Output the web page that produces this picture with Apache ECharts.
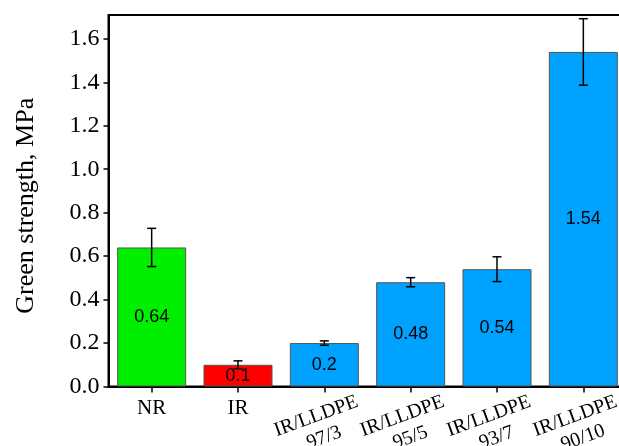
<!DOCTYPE html>
<html>
<head>
<meta charset="utf-8">
<script src="https://cdn.jsdelivr.net/npm/echarts@6/dist/echarts.min.js"></script>
<style>
html,body{margin:0;padding:0;background:#fff;}
#chart{width:619px;height:446px;}
</style>
</head>
<body>
<div id="chart"></div>
<script>
const categories = ['NR', 'IR', 'IR/LLDPE\n97/3', 'IR/LLDPE\n95/5', 'IR/LLDPE\n93/7', 'IR/LLDPE\n90/10'];
const values = [0.64, 0.1, 0.2, 0.48, 0.54, 1.54];
const errors = [0.088, 0.018, 0.01, 0.021, 0.057, 0.153];
const yTicks = [0, 0.2, 0.4, 0.6, 0.8, 1.0, 1.2, 1.4, 1.6];
const yTitle = 'Green strength, MPa';

const barColors = ['#00EE00', '#FF0000', '#00A2FF', '#00A2FF', '#00A2FF', '#00A2FF'];
const serif = '"Liberation Serif", "Times New Roman", serif';
const sans = '"Liberation Sans", Arial, sans-serif';

const chart = echarts.init(document.getElementById('chart'), null, {renderer: 'canvas'});

const option = {
  animation: false,
  backgroundColor: '#ffffff',
  grid: {
    left: 108.5, top: 15, bottom: 59.5, width: 518,
    containLabel: false,
    outerBoundsMode: 'none',
    show: true, borderColor: '#000', borderWidth: 2, backgroundColor: 'transparent'
  },
  xAxis: [
    {
      type: 'category',
      data: categories,
      axisLine: {lineStyle: {color: '#000', width: 2}},
      axisTick: {show: true, alignWithLabel: true, length: 6, lineStyle: {color: '#000', width: 1.5}},
      axisLabel: {
        interval: 0,
        margin: 11,
        color: '#000',
        fontFamily: serif,
        fontSize: 21,
        formatter: function (v) { return v.indexOf('\n') >= 0 ? '' : v; }
      },
      splitLine: {show: false}
    },
    {
      type: 'category',
      data: categories,
      position: 'bottom',
      gridIndex: 0,
      axisLine: {show: false},
      axisTick: {show: false},
      axisLabel: {
        interval: 0,
        rotate: 20,
        margin: 39,
        align: 'center',
        verticalAlign: 'middle',
        color: '#000',
        fontFamily: serif,
        fontSize: 20,
        lineHeight: 23,
        formatter: function (v) {
          if (v.indexOf('\n') < 0) { return ''; }
          return v.split('\n').map(function (s) { return '{a|' + s + '}'; }).join('\n');
        },
        rich: {
          a: {fontFamily: serif, fontSize: 20, lineHeight: 23, color: '#000', padding: [0, 9, 0, 0]}
        }
      },
      splitLine: {show: false}
    }
  ],
  yAxis: {
    type: 'value',
    min: 0,
    max: 1.71,
    interval: 0.2,
    name: yTitle,
    nameLocation: 'middle',
    nameGap: 69,
    nameTextStyle: {fontFamily: serif, fontSize: 26, color: '#000', padding: [0, 10, 0, 0]},
    axisLine: {show: true, lineStyle: {color: '#000', width: 2}},
    axisTick: {show: true, length: 5, customValues: yTicks, lineStyle: {color: '#000', width: 1.5}},
    axisLabel: {
      margin: 9,
      color: '#000',
      fontFamily: serif,
      fontSize: 24,
      customValues: yTicks,
      formatter: function (v) { return v.toFixed(1); }
    },
    splitLine: {show: false}
  },
  series: [
    {
      type: 'bar',
      xAxisIndex: 0,
      barWidth: 69,
      data: values.map(function (v, i) {
        return {value: v, itemStyle: {color: barColors[i]}};
      }),
      itemStyle: {borderColor: '#555', borderWidth: 1},
      label: {
        show: true,
        position: 'inside',
        color: '#000',
        fontFamily: sans,
        fontSize: 18,
        formatter: function (p) { return String(p.value); }
      },
      z: 2
    },
    {
      type: 'custom',
      xAxisIndex: 0,
      z: 5,
      data: values.map(function (v, i) { return [i, v, errors[i]]; }),
      encode: {x: 0, y: 1},
      renderItem: function (params, api) {
        const i = api.value(0);
        const v = api.value(1);
        const e = api.value(2);
        const top = api.coord([i, v + e]);
        const bot = api.coord([i, v - e]);
        const half = 4.5;
        const style = {stroke: '#000', lineWidth: 1.5};
        return {
          type: 'group',
          children: [
            {type: 'line', shape: {x1: top[0], y1: top[1], x2: bot[0], y2: bot[1]}, style: style},
            {type: 'line', shape: {x1: top[0] - half, y1: top[1], x2: top[0] + half, y2: top[1]}, style: style},
            {type: 'line', shape: {x1: bot[0] - half, y1: bot[1], x2: bot[0] + half, y2: bot[1]}, style: style}
          ]
        };
      }
    }
  ]
};

chart.setOption(option);
</script>
</body>
</html>
